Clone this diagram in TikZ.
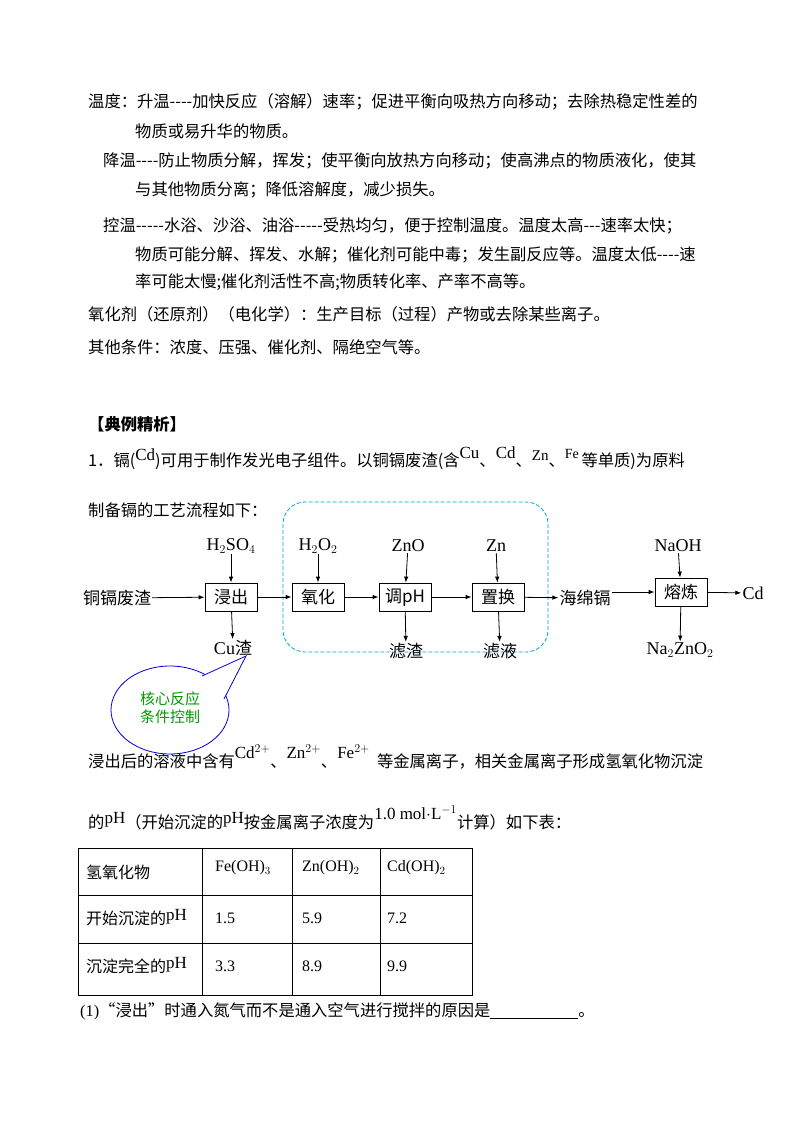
\documentclass[tikz,border=0pt]{standalone}
\usepackage{fontspec}
\setmainfont{Liberation Serif}
\newfontfamily\cjk{Noto Sans CJK SC}
\usetikzlibrary{arrows.meta,shapes.geometric}
\begin{document}
\begin{tikzpicture}[x=1pt,y=-1pt,
  txt/.style={anchor=west,inner sep=0pt,font=\fontsize{16.3}{19}\selectfont\cjk},
  pbox/.style={draw,thick,minimum width=52pt,minimum height=28pt,inner sep=1pt,font=\fontsize{17}{19}\selectfont\cjk},
  lab/.style={inner sep=1pt,font=\fontsize{18}{20}\selectfont},
  arr/.style={-{Latex[length=6pt]},thick},
  cell/.style={anchor=west,inner sep=0pt,font=\fontsize{16}{18}\selectfont}]
\useasboundingbox (0,0) rectangle (800,1129);
\fill[white] (0,0) rectangle (800,1129);
\node[txt] (l1) at (88,102) {温度：升温----加快反应（溶解）速率；促进平衡向吸热方向移动；去除热稳定性差的};
\node[txt] (l2) at (135,131) {物质或易升华的物质。};
\node[txt] (l3) at (103,161) {降温----防止物质分解，挥发；使平衡向放热方向移动；使高沸点的物质液化，使其};
\node[txt] (l4) at (135,190) {与其他物质分离；降低溶解度，减少损失。};
\node[txt] (l5) at (103,226) {控温-----水浴、沙浴、油浴-----受热均匀，便于控制温度。温度太高---速率太快；};
\node[txt] (l6) at (135,255) {物质可能分解、挥发、水解；催化剂可能中毒；发生副反应等。温度太低----速};
\node[txt] (l7) at (135,282) {率可能太慢;催化剂活性不高;物质转化率、产率不高等。};
\node[txt] (l8) at (88,314) {氧化剂（还原剂）（电化学）：生产目标（过程）产物或去除某些离子。};
\node[txt] (l9) at (88,347) {其他条件：浓度、压强、催化剂、隔绝空气等。};
\node[txt,font=\fontsize{16.3}{19}\selectfont\cjk\bfseries] (h) at (88,424) {【典例精析】};
\node[txt] (q1) at (88,458) {1．镉(\raisebox{6pt}{\rmfamily\fontsize{17}{19}\selectfont Cd})可用于制作发光电子组件。以铜镉废渣(含\raisebox{8pt}{\rmfamily\fontsize{17}{19}\selectfont Cu}、\raisebox{8pt}{\rmfamily\fontsize{17}{19}\selectfont Cd}、\raisebox{6pt}{\rmfamily\fontsize{15}{17}\selectfont Zn}、\raisebox{8pt}{\rmfamily\fontsize{14}{17}\selectfont Fe}\,等单质)为原料};
\node[txt] (q2) at (88,510) {制备镉的工艺流程如下：};
% flowchart
\draw[dashed,cyan!90!blue,thick,dash pattern=on 4pt off 2pt,rounded corners=22pt] (283,502) rectangle (548,652);
\node[lab,font=\fontsize{17}{19}\selectfont\cjk] (src) at (117,598) {铜镉废渣};
\node[pbox] (b1) at (231,597) {浸出};
\node[pbox] (b2) at (318,597) {氧化};
\node[pbox] (b3) at (405,597) {调pH};
\node[pbox] (b4) at (498,597) {置换};
\node[lab,font=\fontsize{17}{19}\selectfont\cjk] (sp) at (585,598) {海绵镉};
\node[pbox] (b5) at (681,592) {熔炼};
\node[lab] (cd) at (753,593) {Cd};
\node[lab] (t1) at (231,546) {H$_2$SO$_4$};
\node[lab] (t2) at (318,546) {H$_2$O$_2$};
\node[lab] (t3) at (408,546) {ZnO};
\node[lab] (t4) at (496,546) {Zn};
\node[lab] (t5) at (678,546) {NaOH};
\node[lab] (u1) at (233,648) {Cu{\cjk\fontsize{17}{19}\selectfont 渣}};
\node[lab,font=\fontsize{17}{19}\selectfont\cjk] (u2) at (406,651) {滤渣};
\node[lab,font=\fontsize{17}{19}\selectfont\cjk] (u4) at (500,651) {滤液};
\node[lab] (u5) at (680,650) {Na$_2$ZnO$_2$};
\draw[arr] (src) -- (b1);
\draw[arr] (b1) -- (b2);
\draw[arr] (b2) -- (b3);
\draw[arr] (b3) -- (b4);
\draw[arr] (b4) -- (sp);
\draw[arr] (sp.east|-b5) -- (b5);
\draw[arr] (b5) -- (cd);
\foreach \t/\b in {t1/b1,t2/b2,t3/b3,t4/b4,t5/b5}{\draw[arr] (\t) -- (\b);}
\draw[arr] (b1) -- (u1);
\draw[arr] (b3) -- (u2);
\draw[arr] (b4) -- (u4);
\draw[arr] (b5) -- (u5);
% text under callout
\node[txt] (q3) at (88,757) {浸出后的溶液中含有\raisebox{9pt}{\rmfamily\fontsize{17}{19}\selectfont Cd$^{2+}$}、\raisebox{9pt}{\rmfamily\fontsize{17}{19}\selectfont Zn$^{2+}$}、\raisebox{9pt}{\rmfamily\fontsize{17}{19}\selectfont Fe$^{2+}$}\ \ 等金属离子，相关金属离子形成氢氧化物沉淀};
% callout
\coordinate (tip) at (246,656);
\coordinate (pa) at (202,676);
\coordinate (pb) at (224,699);
\node[draw=blue!85!black,thick,fill=white,ellipse,minimum width=118pt,minimum height=88pt,inner sep=0pt] (ell) at (170,710) {};
\fill[white] (tip) -- (pa) -- (pb) -- cycle;
\draw[blue!85!black,thick] (pa) -- (tip) -- (pb);
\node[inner sep=0pt,align=left,text=green!60!black,font=\fontsize{15}{18}\selectfont\cjk] (co) at (170,708) {核心反应\\条件控制};
\node[txt] (q4) at (88,818) {的\raisebox{5pt}{\rmfamily\fontsize{17}{19}\selectfont pH}（开始沉淀的\raisebox{5pt}{\rmfamily\fontsize{17}{19}\selectfont pH}按金属离子浓度为\raisebox{9pt}{\rmfamily\fontsize{17}{19}\selectfont 1.0 mol$\cdot$L$^{-1}$}计算）如下表：};
% table
\draw[thick] (78,848) rectangle (472,995);
\foreach \x in {202,292,380}{\draw[thick] (\x,848) -- (\x,995);}
\foreach \y in {895,943}{\draw[thick] (78,\y) -- (472,\y);}
\node[cell,font=\fontsize{16}{18}\selectfont\cjk] (c11) at (86,872) {氢氧化物};
\node[cell] (c12) at (215,868) {Fe(OH)$_3$};
\node[cell] (c13) at (302,868) {Zn(OH)$_2$};
\node[cell] (c14) at (387,868) {Cd(OH)$_2$};
\node[cell,font=\fontsize{16}{18}\selectfont\cjk] (c21) at (86,918) {开始沉淀的\raisebox{4pt}{\rmfamily\fontsize{17}{19}\selectfont pH}};
\node[cell] (c22) at (215,918) {1.5};
\node[cell] (c23) at (302,918) {5.9};
\node[cell] (c24) at (387,918) {7.2};
\node[cell,font=\fontsize{16}{18}\selectfont\cjk] (c31) at (86,966) {沉淀完全的\raisebox{4pt}{\rmfamily\fontsize{17}{19}\selectfont pH}};
\node[cell] (c32) at (215,966) {3.3};
\node[cell] (c33) at (302,966) {8.9};
\node[cell] (c34) at (387,966) {9.9};
\node[txt] (q5) at (80,1011) {{\rmfamily (1)}“浸出”时通入氮气而不是通入空气进行搅拌的原因是\rule[-2pt]{88pt}{0.6pt}。};
\end{tikzpicture}
\end{document}
